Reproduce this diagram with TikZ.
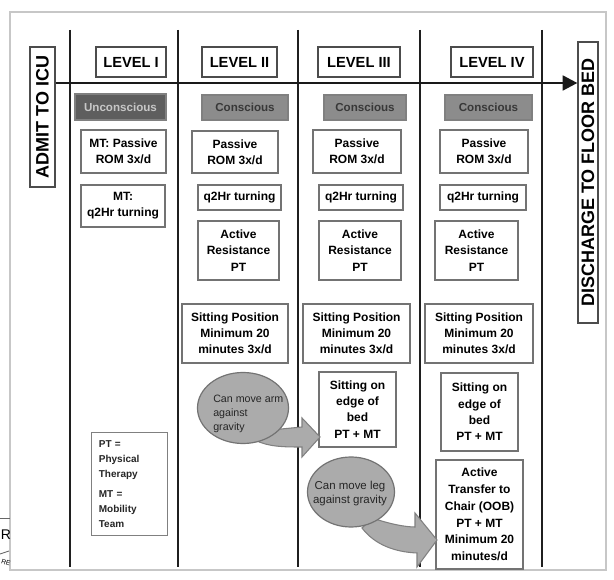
\documentclass[tikz,border=0pt]{standalone}
\usepackage{fontspec}
\setmainfont{Liberation Sans}
\usetikzlibrary{arrows.meta,shapes.geometric}

\tikzset{
  wh/.style 2 args={minimum width=#1*0.75pt, minimum height=#2*0.75pt},
  cell/.style={draw=black!55, line width=0.9pt, fill=white, inner sep=0pt,
    align=center, font=\bfseries\fontsize{9}{12.2}\selectfont},
  headbox/.style={cell, draw=black!70, font=\bfseries\fontsize{11}{13}\selectfont},
  statebox/.style={cell, fill=black!45, draw=black!50, text=black!78,
    font=\bfseries\fontsize{8.7}{10}\selectfont},
  darkstate/.style={statebox, fill=black!63, text=black!22},
  sidebox/.style={draw=black!70, line width=0.9pt, fill=white, inner sep=0pt,
    rotate=90, font=\bfseries\fontsize{13.5}{15}\selectfont},
  bubble/.style={ellipse, draw=black!55, line width=0.9pt, fill=black!33, inner sep=0pt},
  bubbletext/.style={align=left, inner sep=0pt, font=\fontsize{8}{10.5}\selectfont, text=black!85},
  blockarrow/.style={draw=black!50, line width=0.8pt, fill=black!33},
  lane/.style={line width=1.9pt, black!88},
  timeline/.style={line width=2pt, black!90, -{Triangle[length=11pt,width=11pt]}},
  legendbox/.style={draw=black!50, line width=0.8pt, fill=white, inner xsep=5.5pt,
    align=left, text width=46pt, font=\bfseries\fontsize{7.5}{11.2}\selectfont,
    text=black!85}
}

\begin{document}
\begin{tikzpicture}[x=0.75pt,y=-0.75pt]
\useasboundingbox (0,0) rectangle (614,580);

% outer frame
\draw[black!22, line width=0.8pt] (10,12) rectangle (606,570);

% piece of a neighbouring panel at the lower left edge
\draw[black!60, line width=0.6pt] (0,518) -- (10,518);
\draw[black!60, line width=0.6pt] (0,554) -- (9,551);
\node[anchor=base west, font=\fontsize{10.5}{12}\selectfont, inner sep=0pt] (fragR) at (0.5,540) {R};
\node[anchor=base west, rotate=-18, font=\fontsize{5}{6}\selectfont, inner sep=0pt] (fragRE) at (0.5,563) {RE};

% swim lane separators
\foreach \i/\x in {1/70,2/178,3/298,4/420,5/542}{
  \coordinate (lt\i) at (\x,30);
  \coordinate (lb\i) at (\x,567);
  \draw[lane] (lt\i) -- (lb\i);
}

% side labels
\node[sidebox, minimum width=105pt, minimum height=18.75pt] (admit) at (42.5,117) {ADMIT TO ICU};
\node[sidebox, minimum width=210.75pt, minimum height=15pt] (discharge) at (588,182.5) {DISCHARGE TO FLOOR BED};

% time line
\coordinate (axisy) at (0,83);
\draw[timeline] (admit.south |- axisy) -- (discharge.north |- axisy);

% level headers
\node[headbox, wh={70}{30}] (lvl1) at (131,62) {LEVEL I};
\node[headbox, wh={75}{30}] (lvl2) at (239.5,62) {LEVEL II};
\node[headbox, wh={82}{30}] (lvl3) at (359,62) {LEVEL III};
\node[headbox, wh={82}{30}] (lvl4) at (492,62) {LEVEL IV};

% state of the patient
\node[darkstate, wh={91}{26}] (st1) at (120.5,107) {Unconscious};
\node[statebox, wh={86}{25}] (st2) at (245,107.5) {Conscious};
\node[statebox, wh={82}{25}] (st3) at (365,107.5) {Conscious};
\node[statebox, wh={87}{25}] (st4) at (488.5,107.5) {Conscious};

% passive range of motion
\node[cell, wh={85}{43}] (rom1) at (123.5,151.5) {MT: Passive\\ROM 3x/d};
\node[cell, wh={86}{42}] (rom2) at (235,152) {Passive\\ROM 3x/d};
\node[cell, wh={88}{43}] (rom3) at (357,151.5) {Passive\\ROM 3x/d};
\node[cell, wh={88}{43}] (rom4) at (484,151.5) {Passive\\ROM 3x/d};

% turning
\node[cell, wh={84}{42}] (turn1) at (123,206) {MT:\\q2Hr turning};
\node[cell, wh={83}{25}] (turn2) at (239.5,197.5) {q2Hr turning};
\node[cell, wh={84}{25}] (turn3) at (361,197.5) {q2Hr turning};
\node[cell, wh={86}{25}] (turn4) at (483,197.5) {q2Hr turning};

% active resistance
\node[cell, wh={81}{59}] (res2) at (238.5,250.5) {Active\\Resistance\\PT};
\node[cell, wh={82}{59}] (res3) at (360,250.5) {Active\\Resistance\\PT};
\node[cell, wh={83}{59}] (res4) at (476.5,250.5) {Active\\Resistance\\PT};

% sitting position
\node[cell, wh={106}{59}] (sit2) at (235,333.5) {Sitting Position\\Minimum 20\\minutes 3x/d};
\node[cell, wh={107}{59}] (sit3) at (356.5,333.5) {Sitting Position\\Minimum 20\\minutes 3x/d};
\node[cell, wh={108}{59}] (sit4) at (479,333.5) {Sitting Position\\Minimum 20\\minutes 3x/d};

% edge of bed
\node[cell, wh={77}{75}] (edge3) at (357.5,409.5) {Sitting on\\edge of\\bed\\PT + MT};
\node[cell, wh={77}{78}] (edge4) at (479.5,412) {Sitting on\\edge of\\bed\\PT + MT};

% transfer to chair
\node[cell, wh={87}{109}, font=\bfseries\fontsize{9}{12.6}\selectfont] (chair4) at (479.5,514.5)
  {Active\\Transfer to\\Chair (OOB)\\PT + MT\\Minimum 20\\minutes/d};

% legend
\node[legendbox, anchor=north west, minimum height=77.25pt] (legend) at (91,432)
  {PT =\\Physical\\Therapy\\[4pt]MT =\\Mobility\\Team};

% progression arrows (drawn below the bubbles)
\coordinate (a1tip) at (320,437);
\coordinate (a2tip) at (437,540);
\draw[blockarrow] (250,432) -- (302,427) -- (302,418) -- (a1tip) -- (302,457) -- (302,447)
  .. controls (285,447) and (268,447) .. (255,440) -- cycle;
\draw[blockarrow] (372,518) .. controls (390,524) and (405,527) .. (415,527) -- (415,513)
  -- (a2tip) -- (417,567) -- (417,553)
  .. controls (395,552) and (375,545) .. (362,528) -- cycle;

% milestones
\node[bubble, minimum width=68.25pt, minimum height=53.25pt] (arm) at (243,408) {};
\node[bubbletext, anchor=north west] (armtext) at (213,395) {Can move arm\\against\\gravity};
\node[bubble, minimum width=65.25pt, minimum height=52.5pt] (leg) at (351,492) {};
\node[bubbletext, align=center, font=\fontsize{8.6}{10.5}\selectfont] (legtext) at (350,494)
  {Can move leg\\against gravity};

\end{tikzpicture}
\end{document}
